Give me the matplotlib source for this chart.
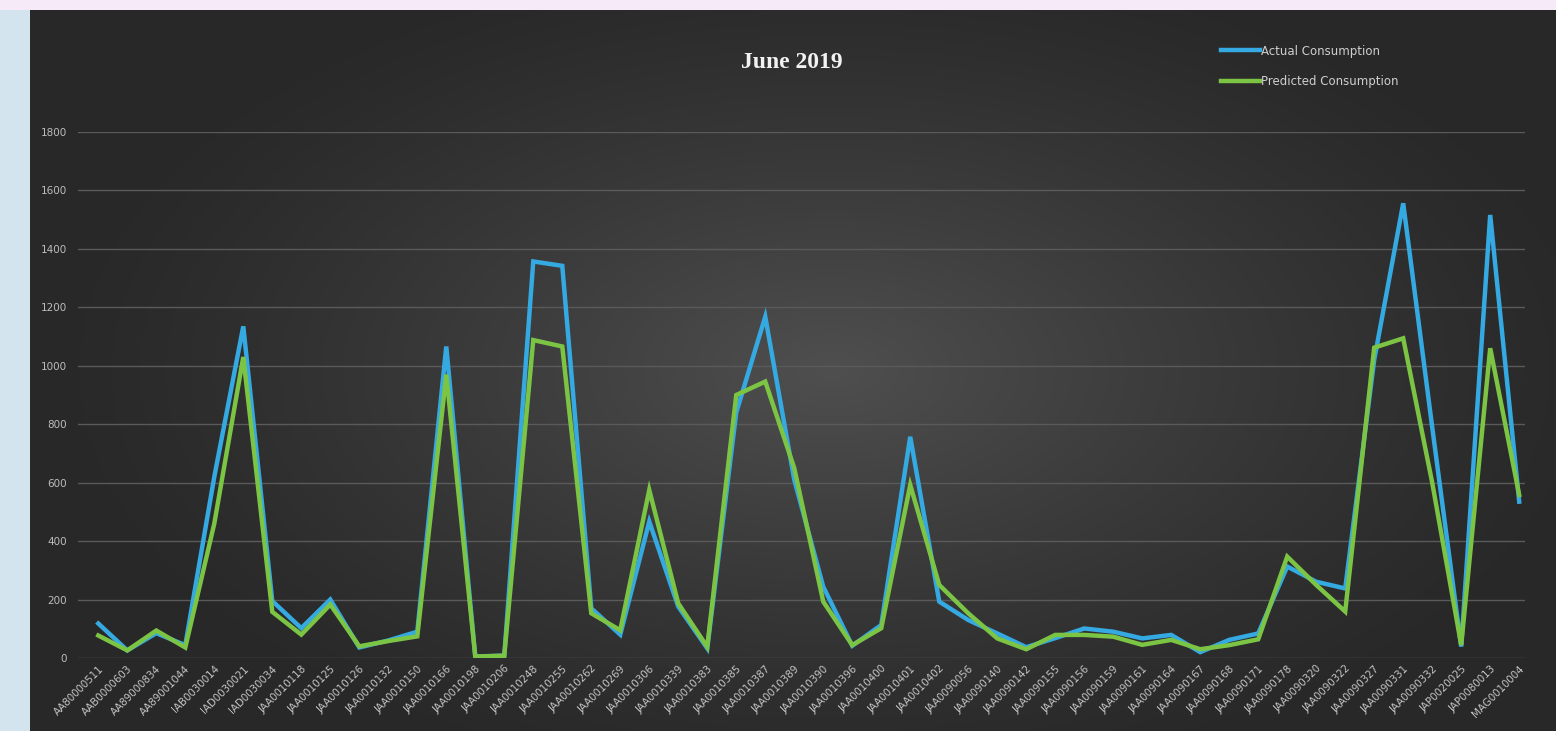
# -*- coding: utf-8 -*-
# Actual vs predicted consumption per meter, June 2019

import numpy as np
import matplotlib
matplotlib.use('Agg')
import matplotlib.pyplot as plt
from matplotlib.lines import Line2D

# Meter ids on the x axis
meters = ['AA80000511', 'AAB0000603', 'AA89000834', 'AA89001044', 'IAB0030014',
          'IAD0030021', 'IAD0030034', 'JAA0010118', 'JAA0010125', 'JAA0010126',
          'JAA0010132', 'JAA0010150', 'JAA0010166', 'JAA0010198', 'JAA0010206',
          'JAA0010248', 'JAA0010255', 'JAA0010262', 'JAA0010269', 'JAA0010306',
          'JAA0010339', 'JAA0010383', 'JAA0010385', 'JAA0010387', 'JAA0010389',
          'JAA0010390', 'JAA0010396', 'JAA0010400', 'JAA0010401', 'JAA0010402',
          'JAA0090056', 'JAA0090140', 'JAA0090142', 'JAA0090155', 'JAA0090156',
          'JAA0090159', 'JAA0090161', 'JAA0090164', 'JAA0090167', 'JAA0090168',
          'JAA0090171', 'JAA0090178', 'JAA0090320', 'JAA0090322', 'JAA0090327',
          'JAA0090331', 'JAA0090332', 'JAP0020025', 'JAP0080013', 'MAG0010004']

actual = [118, 26, 85, 44, 620, 1135, 195, 102, 200, 36,
          60, 90, 1066, 5, 8, 1357, 1342, 170, 80, 467,
          176, 33, 840, 1168, 610, 244, 42, 113, 757, 193,
          130, 84, 37, 68, 101, 90, 67, 79, 20, 62,
          84, 313, 261, 238, 1020, 1556, 790, 39, 1516, 535]

predicted = [77, 26, 94, 36, 460, 1030, 158, 80, 183, 40,
             58, 74, 970, 5, 8, 1088, 1066, 153, 95, 575,
             187, 38, 900, 946, 650, 193, 44, 102, 592, 250,
             153, 67, 30, 79, 79, 73, 45, 62, 30, 44,
             64, 347, 250, 159, 1062, 1094, 600, 44, 1060, 558]

title = 'June 2019'
blue = '#35A9E1'
green = '#7CC444'

W, H = 1556, 731
fig = plt.figure(figsize=(W / 100, H / 100), dpi=100)
fig.patch.set_facecolor('#D4E4EE')

# light strip along the top
top = fig.add_axes([0, 1 - 10 / H, 1, 10 / H])
top.set_axis_off()
top.add_patch(plt.Rectangle((0, 0), 1, 1, color='#F6EAF9', transform=top.transAxes))

# dark chart background with a soft radial highlight in the middle
bg = fig.add_axes([30 / W, 0, 1 - 30 / W, (H - 10) / H])
bg.set_axis_off()
gx, gy = np.meshgrid(np.linspace(-1, 1, 400), np.linspace(-1, 1, 200))
r = np.sqrt(((gx - 0.05) / 1.0) ** 2 + (gy / 1.15) ** 2)
shade = np.clip(1 - r, 0, 1) ** 1.2
grey = 0.16 + 0.15 * shade
img = np.dstack([grey, grey, grey])
bg.imshow(img, aspect='auto', extent=[0, 1, 0, 1], interpolation='bilinear')
bg.set_xlim(0, 1)
bg.set_ylim(0, 1)

# plot area
ax = fig.add_axes([78 / W, 73 / H, (1525 - 78) / W, (658 - 132) / H])
ax.patch.set_alpha(0)
x = np.arange(len(meters))
ax.plot(x, actual, color=blue, lw=3.2, solid_joinstyle='miter', zorder=3)
ax.plot(x, predicted, color=green, lw=3.2, solid_joinstyle='miter', zorder=4)

ax.set_xlim(-0.7, 49.2)
ax.set_ylim(0, 1800)
ax.set_yticks(range(0, 1801, 200))
ax.yaxis.grid(True, color='#5a5a5a', lw=1)
ax.set_axisbelow(True)
for s in ax.spines.values():
    s.set_visible(False)
ax.tick_params(length=0, colors='#bdbdbd', labelsize=7.5, pad=8)
ax.set_xticks(x)
ax.set_xticklabels(meters, rotation=45, ha='right', va='top',
                   rotation_mode='anchor', fontsize=7.4, color='#c4c4c4')
ax.tick_params(axis='x', pad=4)

fig.text(792 / W, 1 - 63 / H, title, ha='center', va='center',
         family='Liberation Serif', weight='bold', fontsize=17, color='#f2f2f2')

handles = [Line2D([], [], color=blue, lw=3.2), Line2D([], [], color=green, lw=3.2)]
leg = fig.legend(handles, ['Actual Consumption', 'Predicted Consumption'],
                 loc='upper left', bbox_to_anchor=(1210 / W, 1 - 34 / H),
                 frameon=False, handlelength=3.3, handletextpad=0.1,
                 labelspacing=1.45, fontsize=8.5)
for t in leg.get_texts():
    t.set_color('#cfcfcf')

fig.savefig('out.png', dpi=100, facecolor=fig.get_facecolor())
